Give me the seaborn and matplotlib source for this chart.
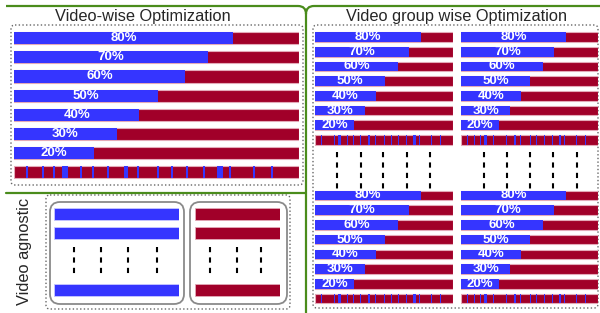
import pandas as pd
import seaborn as sns
import matplotlib.pyplot as plt
from matplotlib.patches import FancyBboxPatch, PathPatch
from matplotlib.path import Path

sns.set_style("white")
plt.rcParams['font.family'] = ['Liberation Sans', 'DejaVu Sans']

# data
labels = ['80%', '70%', '60%', '50%', '40%', '30%', '20%']
blue_share = [0.77, 0.68, 0.60, 0.505, 0.44, 0.36, 0.28]
# blue stripes in the mixed bar (start, width) as fractions of bar length
stripe_start = [0.042, 0.098, 0.137, 0.168, 0.232, 0.274, 0.326, 0.385, 0.432,
                0.502, 0.550, 0.605, 0.663, 0.712, 0.754, 0.839, 0.903]
stripe_width = [0.007, 0.007, 0.007, 0.020, 0.007, 0.007, 0.007, 0.016, 0.007,
                0.007, 0.007, 0.007, 0.007, 0.020, 0.007, 0.007, 0.007]
agnostic_rows = [0, 1, 4]

BLUE = '#3535ff'
RED = '#a10029'
GREEN = '#4a8c1c'
W, H = 600, 313

fig = plt.figure(figsize=(6, 3.13), dpi=100)


def px_axes(x0, y0, x1, y1):
    return fig.add_axes([x0 / W, 1 - y1 / H, (x1 - x0) / W, (y1 - y0) / H])


def split_bars(ax, bar_w, fontsize):
    rows = labels + ['mixed']
    df = pd.DataFrame({'row': rows, 'full': [1.0] * len(rows),
                       'blue': blue_share + [0.0]})
    sns.barplot(data=df, x='full', y='row', color=RED, width=bar_w,
                saturation=1, edgecolor='#e3aab8', linewidth=0.8, ax=ax)
    sns.barplot(data=df.iloc[:-1], x='blue', y='row', color=BLUE, width=bar_w,
                saturation=1, linewidth=0, ax=ax)
    ax.barh(len(labels), stripe_width, left=stripe_start, height=bar_w,
            color=BLUE, linewidth=0)
    for i, (lab, b) in enumerate(zip(labels, blue_share)):
        ax.text(b / 2, i, lab, ha='center', va='center', color='white',
                fontweight='bold', fontsize=fontsize)
    ax.set_xlim(0, 1)
    ax.set_ylim(len(rows) - 0.5, -0.5)
    ax.set_axis_off()


# canvas for frames, titles and dashes
canvas = px_axes(0, 0, W, H)
canvas.set_xlim(0, W)
canvas.set_ylim(H, 0)
canvas.set_axis_off()

# green separators
for pts in ([(6, 6), (298, 6), (306, 6), (306, 14)],
            [(600, 6), (314, 6), (306, 6), (306, 14)]):
    p = Path(pts, [Path.MOVETO, Path.LINETO, Path.CURVE3, Path.CURVE3])
    canvas.add_patch(PathPatch(p, fill=False, ec=GREEN, lw=1.6))
canvas.plot([306, 306], [14, 313], color=GREEN, lw=1.6)
canvas.plot([6, 306], [193, 193], color=GREEN, lw=1.6)

# dotted boxes
for x0, y0, x1, y1 in [(11, 25, 303, 185), (313, 25, 598, 308), (46, 195, 290, 309)]:
    canvas.add_patch(FancyBboxPatch((x0, y0), x1 - x0, y1 - y0,
                                    boxstyle='round,pad=0,rounding_size=4',
                                    fill=False, ec='#666666', lw=1, ls=':'))
# rounded boxes of the agnostic part
for x0, x1 in [(50, 184), (190, 287)]:
    canvas.add_patch(FancyBboxPatch((x0, 202), x1 - x0, 102,
                                    boxstyle='round,pad=0,rounding_size=10',
                                    fill=False, ec='#8a8a8a', lw=1.3))

# titles
canvas.text(143, 16, 'Video-wise Optimization', ha='center', va='center', fontsize=11.8)
canvas.text(457, 16, 'Video group wise Optimization', ha='center', va='center', fontsize=11.8)
canvas.text(25, 251, 'Video agnostic', rotation=90, ha='center', va='center', fontsize=11.8)

# dashed "more rows" lines
dash = (0, (2.5, 2.5))
canvas.vlines([337, 361, 383, 407, 430, 484, 507, 530, 553, 577], 152, 189,
              colors='black', lw=1.5, linestyles=dash)
canvas.vlines([74, 101, 128, 157, 210, 237, 261], 247, 274,
              colors='black', lw=1.5, linestyles=dash)

# bar panels
split_bars(px_axes(14, 28.5, 299, 182), 0.63, 9.5)
for x0, x1 in [(315, 453), (461, 598)]:
    split_bars(px_axes(x0, 29.7, x1, 147.3), 0.65, 9.5)
    split_bars(px_axes(x0, 188, x1, 306), 0.65, 9.5)

for (x0, x1), col in [((54, 179), BLUE), ((195, 280), RED)]:
    ax = px_axes(x0, 204.5, x1, 299.5)
    ax.barh(agnostic_rows, [1.0] * len(agnostic_rows), height=0.63, color=col,
            edgecolor='#c8c8ff' if col == BLUE else '#e3aab8', linewidth=0.6)
    ax.set_xlim(0, 1)
    ax.set_ylim(4.5, -0.5)
    ax.set_axis_off()

fig.savefig('out.png', dpi=100)
